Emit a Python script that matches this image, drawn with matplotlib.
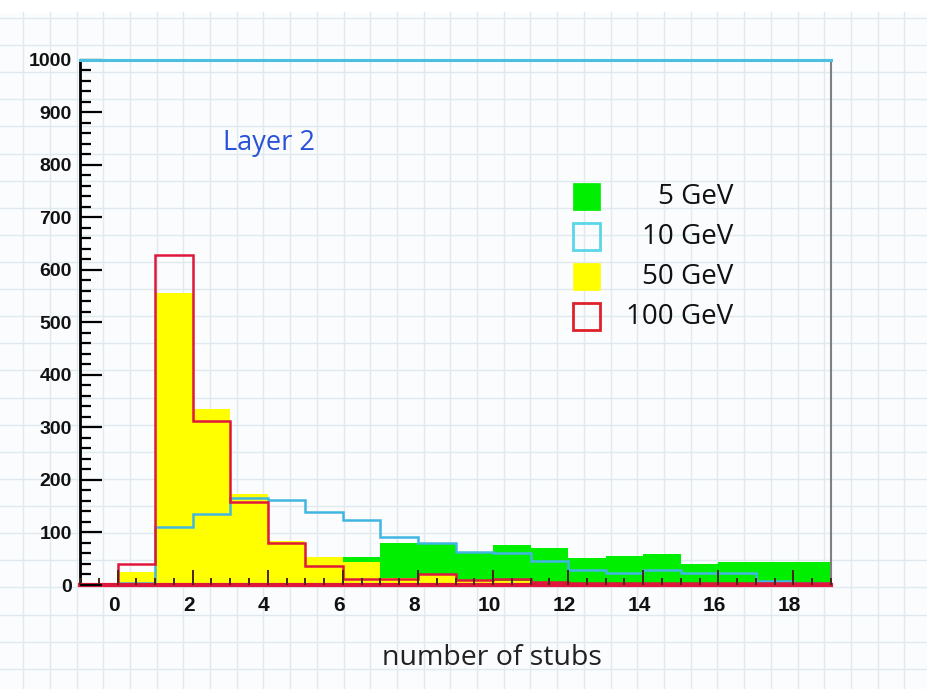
import numpy as np
import matplotlib
matplotlib.use("Agg")
import matplotlib.pyplot as plt
from matplotlib.patches import Rectangle
from matplotlib.ticker import MultipleLocator
from matplotlib.transforms import ScaledTranslation

# ---- data (bins of width 1 from -1 to 19) ----
bin_edges = np.arange(-1, 20)
green_5gev = [0, 0, 8, 20, 30, 40, 48, 54, 80, 79, 62, 76, 70, 52, 55, 59, 40, 44, 44, 44]
cyan_10gev = [0, 3, 110, 136, 165, 162, 139, 124, 92, 80, 62, 60, 46, 28, 23, 28, 22, 22, 8, 4]
yellow_50gev = [0, 25, 556, 335, 173, 84, 54, 44, 14, 19, 8, 8, 3, 3, 3, 3, 3, 3, 3, 3]
red_100gev = [0, 40, 628, 313, 157, 79, 37, 11, 12, 20, 10, 12, 5, 4, 4, 4, 4, 4, 4, 4]
legend_labels = ["5 GeV", "10 GeV", "50 GeV", "100 GeV"]
x_tick_values = list(range(0, 19, 2))
y_tick_values = list(range(0, 1001, 100))

W, H = 927, 689
fig = plt.figure(figsize=(W / 100, H / 100), dpi=100)
fig.patch.set_facecolor("#fafcfd")

# ---- graph paper background ----
bg = fig.add_axes([0, 0, 1, 1])
bg.set_xlim(0, W)
bg.set_ylim(H, 0)
bg.axis("off")
bg.add_patch(Rectangle((0, 0), W, 12, color="white", zorder=0))
gx = 23.2
while gx < W:
    bg.plot([gx, gx], [12, H], color="#e0e9ee", lw=1.0, zorder=1)
    gx += 26.7
gy = 17.9
while gy < H:
    bg.plot([0, W], [gy, gy], color="#e0e9ee", lw=1.0, zorder=1)
    gy += 27.12

# ---- main axes ----
L, R, T, B = 80, 831, 59.5, 585
ax = fig.add_axes([L / W, 1 - B / H, (R - L) / W, (B - T) / H])
ax.set_facecolor("none")
ax.set_xlim(-1, 19)
ax.set_ylim(0, 1000)

ax.stairs(green_5gev, bin_edges, fill=True, color="#00ee00", zorder=1)
ax.stairs(yellow_50gev, bin_edges, fill=True, color="#ffff00", zorder=1.2)
ax.stairs(cyan_10gev, bin_edges, fill=False, color="#42b6e2", lw=1.8, zorder=1.4)
ax.stairs(red_100gev, bin_edges, fill=False, color="#e0173c", lw=1.8, zorder=1.6)

# spines
ax.spines["left"].set_color("black")
ax.spines["left"].set_linewidth(2)
ax.spines["top"].set_visible(False)
ax.plot([-1, 19], [1000, 1000], color="#4cc0dc", lw=2.2, zorder=10, clip_on=False)
ax.spines["right"].set_color("#808080")
ax.spines["right"].set_linewidth(1.5)
ax.spines["bottom"].set_color("#e0173c")
ax.spines["bottom"].set_linewidth(3)

ax.set_axisbelow(False)
ax.yaxis.set_minor_locator(MultipleLocator(20))
ax.xaxis.set_minor_locator(MultipleLocator(0.5))
ax.set_yticks(y_tick_values)
ax.set_yticklabels([str(v) for v in y_tick_values])
ax.set_xticks(x_tick_values)
ax.set_xticklabels([str(v) for v in x_tick_values])
ax.tick_params(axis="y", which="major", direction="in", length=16, width=1.6,
               color="black", pad=6, labelsize=14)
ax.tick_params(axis="y", which="minor", direction="in", length=8, width=1.6, color="black")
ax.tick_params(axis="x", which="major", direction="in", length=11, width=1.4,
               color="#4a2418", pad=8, labelsize=15)
ax.tick_params(axis="x", which="minor", direction="in", length=5, width=1.4, color="#4a2418")
shift = ScaledTranslation(-4 / 100, 0, fig.dpi_scale_trans)
for lab in ax.get_xticklabels():
    lab.set_transform(lab.get_transform() + shift)
for lab in ax.get_xticklabels() + ax.get_yticklabels():
    lab.set_fontfamily("Liberation Sans")
    lab.set_fontweight("bold")
    lab.set_color("#111111")

# ---- texts ----
ax.text((269 - L) / (R - L), (B - 143) / (B - T), "Layer 2", color="#2a52d8",
        fontsize=19.5, family="Open Sans", ha="center", va="center",
        transform=ax.transAxes)

fills = [("#00ee00", True), ("#5ad6e8", False), ("#ffff00", True), ("#e0202a", False)]
row_y = [196.7, 236.7, 276.7, 316.7]
sq = 26.7
for (col, filled), label, py in zip(fills, legend_labels, row_y):
    x0 = (573.3 - L) / (R - L)
    y0 = (B - (py + sq / 2)) / (B - T)
    if filled:
        rect = Rectangle((x0, y0), sq / (R - L), sq / (B - T), transform=ax.transAxes,
                         facecolor=col, edgecolor=col, lw=0.5, zorder=5)
    else:
        rect = Rectangle((x0, y0), sq / (R - L), sq / (B - T), transform=ax.transAxes,
                         facecolor="none", edgecolor=col, lw=2, zorder=5)
    ax.add_patch(rect)
    ax.text((733 - L) / (R - L), (B - py) / (B - T), label, ha="right", va="center",
            fontsize=20, family="Open Sans", color="#111111", transform=ax.transAxes)

fig.text(491.7 / W, 1 - 658 / H, "number of stubs", ha="center", va="center",
         fontsize=20.5, family="Open Sans", color="#222222")

fig.savefig("out.png", dpi=100, facecolor=fig.get_facecolor())
